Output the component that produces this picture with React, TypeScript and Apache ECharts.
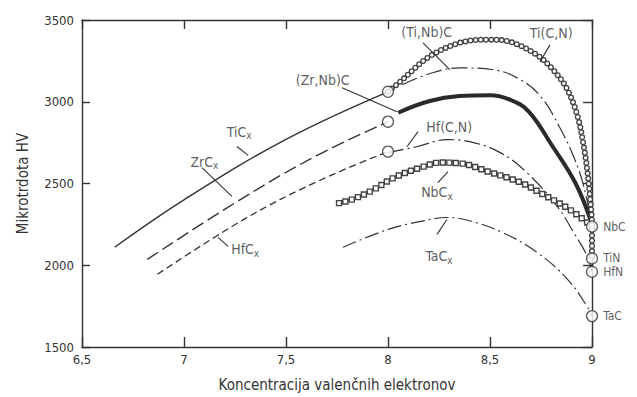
import React, { useEffect, useRef } from "react";
import * as echarts from "echarts";

// ---- data (x = valence electron concentration, y = microhardness HV) ----
const xTickValues = [6.5, 7, 7.5, 8, 8.5, 9];
const yTickValues = [1500, 2000, 2500, 3000, 3500];

const ticX = [
  [6.66, 2110], [7.0, 2400], [7.5, 2770], [8.0, 3061],
];
const zrcX = [
  [6.82, 2036], [7.3, 2420], [7.65, 2670], [8.0, 2878],
];
const hfcX = [
  [6.87, 1945], [7.3, 2285], [7.65, 2510], [8.0, 2695],
];
const tiCN = [
  [8.0, 3061], [8.07, 3134], [8.2, 3274], [8.35, 3360], [8.49, 3380], [8.6, 3366], [8.73, 3287],
  [8.81, 3195], [8.88, 3073], [8.93, 2908], [8.96, 2725], [8.978, 2567], [8.99, 2420], [9.0, 2237], [9.0, 2042],
];
const tiNbC = [
  [8.07, 3104], [8.2, 3170], [8.35, 3207], [8.52, 3195], [8.65, 3134], [8.75, 3030], [8.84, 2847],
  [8.91, 2664], [8.96, 2481], [9.0, 2237],
];
const zrNbC = [
  [8.05, 2933], [8.2, 3003], [8.35, 3035], [8.5, 3040], [8.6, 3012], [8.69, 2940], [8.8, 2740],
  [8.92, 2500], [9.0, 2250],
];
const hfCN = [
  [8.0, 2689], [8.14, 2725], [8.29, 2768], [8.4, 2756], [8.55, 2689], [8.68, 2567], [8.83, 2359],
  [8.91, 2201], [8.975, 2060], [9.0, 1960],
];
const nbcX = [
  [7.76, 2380], [7.83, 2405], [7.93, 2463], [8.03, 2536], [8.16, 2597], [8.26, 2628], [8.35, 2624],
  [8.49, 2573], [8.65, 2506], [8.76, 2433], [8.89, 2341], [9.0, 2237],
];
const tacX = [
  [7.78, 2110], [8.0, 2219], [8.16, 2268], [8.29, 2292], [8.4, 2272], [8.56, 2201], [8.73, 2079],
  [8.88, 1914], [8.975, 1750], [9.0, 1689],
];

// end-member compounds (open circles)
const endNames = ["", "", "", "NbC", "TiN", "HfN", "TaC"];
const endPoints = [
  [8.0, 3061], [8.0, 2878], [8.0, 2695], [9.0, 2237], [9.0, 2042], [9.0, 1960], [9.0, 1689],
];

// annotation labels and their leader lines (data coordinates)
const annoTexts = ["TiC{s|x}", "ZrC{s|x}", "HfC{s|x}", "(Zr,Nb)C", "(Ti,Nb)C", "Ti(C,N)", "Hf(C,N)", "NbC{s|x}", "TaC{s|x}"];
const annoPos = [
  [7.27, 2817], [7.1, 2634], [7.3, 2097], [7.68, 3134], [8.19, 3427], [8.8, 3421], [8.3, 2847], [8.24, 2445], [8.25, 2055],
];
const leaders = [
  [[7.26, 2726], [7.314, 2672]],
  [[7.088, 2597], [7.235, 2421]],
  [[7.167, 2171], [7.216, 2116]],
  [[7.775, 3085], [8.044, 2939]],
  [[8.172, 3360], [8.304, 3195]],
  [[8.794, 3348], [8.745, 3244]],
  [[8.147, 2817], [8.093, 2725]],
  [[8.294, 2573], [8.245, 2506]],
  [[8.289, 2280], [8.24, 2189]],
];

const FONT = "'Liberation Sans Narrow','DejaVu Sans Condensed','Roboto Condensed','Liberation Sans',sans-serif";
const INK = "#333";

export default function App() {
  const ref = useRef<HTMLDivElement>(null);
  useEffect(() => {
    if (!ref.current) return;
    const chart = echarts.init(ref.current, undefined, { renderer: "svg" });

    const lineSeries = (data: number[][], type: any, width = 1.3, extra: any = {}, smooth = 0.4) => ({
      type: "line",
      data,
      smooth,
      symbol: "none",
      silent: true,
      lineStyle: { color: INK, width, type, ...extra },
      z: 2,
    });

    const axisCommon = {
      type: "value",
      axisLine: { show: true, lineStyle: { color: INK, width: 1.4 } },
      splitLine: { show: false },
    };

    chart.setOption({
      animation: false,
      backgroundColor: "#fff",
      grid: { left: 82, top: 20, right: 45, bottom: 49 },
      xAxis: [
        {
          ...axisCommon,
          min: 6.5, max: 9, interval: 0.5,
          position: "bottom",
          axisTick: { inside: true, length: 10, lineStyle: { color: INK, width: 1.4 } },
          axisLabel: {
            color: INK, fontFamily: FONT, fontSize: 13, margin: 6,
            formatter: (v: number) => (xTickValues.includes(v) ? String(v).replace(".", ",") : ""),
          },
          name: "Koncentracija valenčnih elektronov",
          nameLocation: "middle",
          nameGap: 30,
          nameTextStyle: { color: INK, fontFamily: FONT, fontSize: 15 },
        },
        {
          ...axisCommon,
          min: 6.5, max: 9, interval: 0.5,
          position: "top",
          axisTick: { inside: true, length: 9, lineStyle: { color: INK, width: 1.4 } },
          axisLabel: { show: false },
        },
      ],
      yAxis: [
        {
          ...axisCommon,
          min: 1500, max: 3500, interval: 500,
          position: "left",
          axisTick: { inside: true, length: 8, lineStyle: { color: INK, width: 1.4 } },
          axisLabel: {
            color: INK, fontFamily: FONT, fontSize: 13, margin: 8,
            formatter: (v: number) => (yTickValues.includes(v) ? String(v) : ""),
          },
          name: "Mikrotrdota HV",
          nameLocation: "middle",
          nameGap: 52,
          nameRotate: 90,
          nameTextStyle: { color: INK, fontFamily: FONT, fontSize: 15 },
        },
        {
          ...axisCommon,
          min: 1500, max: 3500, interval: 500,
          position: "right",
          axisTick: { inside: true, length: 9, lineStyle: { color: INK, width: 1.4 } },
          axisLabel: { show: false },
        },
      ],
      series: [
        lineSeries(ticX, "solid", 1.4),
        lineSeries(zrcX, [13, 5], 1.4),
        lineSeries(hfcX, [7, 4], 1.3),
        lineSeries(tiNbC, [16, 4, 2, 4], 1.2),
        lineSeries(hfCN, [16, 4, 2, 4], 1.2),
        lineSeries(tacX, [14, 4, 2, 4], 1.2),
        lineSeries(zrNbC, "solid", 4, { color: "#2a2a2a" }),
        // Ti(C,N): chain of small open circles
        { ...lineSeries(tiCN, [0, 5.2], 6, { cap: "round", color: "#444" }, 0.35), z: 3 },
        { ...lineSeries(tiCN, [0, 5.2], 3.4, { cap: "round", color: "#fff" }, 0.35), z: 4 },
        // NbCx: chain of small open squares
        { ...lineSeries(nbcX, [0, 6.6], 6.4, { cap: "square", color: "#444" }), z: 3 },
        { ...lineSeries(nbcX, [0, 6.6], 3.6, { cap: "square", color: "#fff" }), z: 4 },
        {
          type: "scatter",
          data: endPoints.map((p, i) => ({ value: p, name: endNames[i] })),
          symbol: "circle",
          symbolSize: 11,
          itemStyle: { color: "#fff", borderColor: INK, borderWidth: 1.3 },
          label: {
            show: true,
            position: "right",
            distance: 5,
            formatter: (p: any) => p.name,
            color: INK,
            fontFamily: FONT,
            fontSize: 12,
          },
          z: 6,
          silent: true,
        },
        {
          type: "scatter",
          data: annoPos.map((p, i) => ({ value: p, name: annoTexts[i] })),
          symbolSize: 0,
          silent: true,
          label: {
            show: true,
            position: "inside",
            formatter: (p: any) => p.name,
            color: INK,
            fontFamily: FONT,
            fontSize: 14,
            rich: { s: { fontFamily: FONT, fontSize: 10, color: INK, verticalAlign: "bottom", padding: [8, 0, 0, 0] } },
          },
          markLine: {
            silent: true,
            symbol: "none",
            label: { show: false },
            lineStyle: { color: INK, width: 1.1, type: "solid" },
            data: leaders.map(([a, b]) => [{ coord: a }, { coord: b }]),
          },
          z: 5,
        },
      ],
    });
    return () => chart.dispose();
  }, []);
  return <div ref={ref} style={{ position: "fixed", left: 0, top: 0, width: 637, height: 397 }} />;
}
